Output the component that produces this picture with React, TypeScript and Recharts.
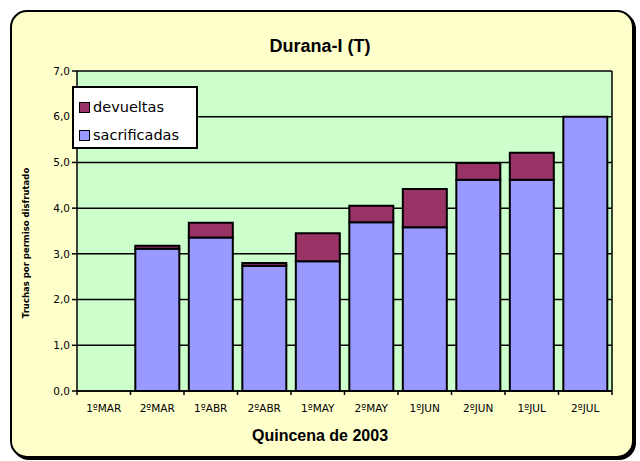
import React from 'react';
import { BarChart, Bar, XAxis, YAxis, CartesianGrid, Legend } from 'recharts';

const quincenas = ['1ºMAR', '2ºMAR', '1ºABR', '2ºABR', '1ºMAY', '2ºMAY', '1ºJUN', '2ºJUN', '1ºJUL', '2ºJUL'];
const sacrificadas = [null, 3.11, 3.36, 2.74, 2.84, 3.69, 3.58, 4.62, 4.62, 6.0];
const devueltas = [null, 0.07, 0.32, 0.06, 0.61, 0.36, 0.84, 0.37, 0.59, 0];
const yTicks = [0, 1, 2, 3, 4, 5, 6, 7];

const W = 640;
const H = 461;
const margin = { top: 71, right: 28, bottom: 40, left: 37 };
const Y_AXIS_W = 40;
const X_AXIS_H = 30;
const PLOT_BOTTOM = H - margin.bottom - X_AXIS_H;
const BAND = (W - margin.left - margin.right - Y_AXIS_W) / quincenas.length;
const FONT = 'Arial, "Liberation Sans", sans-serif';
const WIDE = '"DejaVu Sans", Verdana, sans-serif';

const data = quincenas.map((q, i) => ({
    quincena: q,
    sacrificadas: sacrificadas[i],
    devueltas: devueltas[i],
}));

const XTick = (props: any) => {
    const { x, y, payload, index } = props;
    const left = x - BAND / 2;
    return (
        <g>
            <line x1={left} y1={PLOT_BOTTOM} x2={left} y2={PLOT_BOTTOM + 4} stroke="#000" strokeWidth={1.5} />
            {index === quincenas.length - 1 && (
                <line x1={x + BAND / 2} y1={PLOT_BOTTOM} x2={x + BAND / 2} y2={PLOT_BOTTOM + 4} stroke="#000" strokeWidth={1.5} />
            )}
            <text x={x} y={y + 13} textAnchor="middle" fontSize={10.5} fontFamily={WIDE} fill="#000">
                {payload.value}
            </text>
        </g>
    );
};

const LegendBox = (props: any) => {
    const items = props.payload || [];
    return (
        <div style={{ background: '#fff', border: '2px solid #000', width: 126, height: 63, boxSizing: 'border-box', padding: '5px 0 0 5px', fontFamily: WIDE }}>
            {items.map((it: any) => (
                <div key={it.value} style={{ display: 'flex', alignItems: 'center', height: 28, fontSize: 14.5 }}>
                    <span style={{ display: 'inline-block', width: 9, height: 9, background: it.color, border: '1.5px solid #000', marginRight: 3 }} />
                    {it.value}
                </div>
            ))}
        </div>
    );
};

const YLabel = () => (
    <text x={29} y={243} transform="rotate(-90 29 243)" textAnchor="middle" fontSize={8.5} fontWeight="bold" fontFamily={WIDE} fill="#000">
        Truchas por permiso disfrutado
    </text>
);

const App: React.FC = () => {
    return (
        <div style={{ position: 'absolute', left: 0, top: 0, width: W, height: H, background: '#fff' }}>
            <div style={{ position: 'absolute', left: 10, top: 10, width: 620, height: 444, background: '#FFFFCC', border: '2px solid #000', borderRadius: 17, boxShadow: '2px 2px 0 #000' }} />
            <div style={{ position: 'absolute', left: 0, top: 36, width: W, textAlign: 'center', fontFamily: FONT, fontWeight: 'bold', fontSize: 18 }}>
                Durana-I (T)
            </div>
            <div style={{ position: 'absolute', left: 0, top: 427, width: W, textAlign: 'center', fontFamily: FONT, fontWeight: 'bold', fontSize: 16 }}>
                Quincena de 2003
            </div>
            <div style={{ position: 'absolute', left: 0, top: 0 }}>
                <BarChart width={W} height={H} data={data} margin={margin} barCategoryGap="9%">
                    <CartesianGrid
                        fill="#CCFFCC"
                        stroke="#000"
                        strokeWidth={1.5}
                        verticalCoordinatesGenerator={({ offset }: any) => [offset.left + offset.width]}
                    />
                    <XAxis
                        dataKey="quincena"
                        height={X_AXIS_H}
                        axisLine={{ stroke: '#000', strokeWidth: 1.5 }}
                        tickLine={false}
                        tick={<XTick />}
                        interval={0}
                    />
                    <YAxis
                        width={Y_AXIS_W}
                        domain={[0, 7]}
                        ticks={yTicks}
                        interval={0}
                        axisLine={{ stroke: '#000', strokeWidth: 1.5 }}
                        tickLine={{ stroke: '#000', strokeWidth: 1.5 }}
                        tickSize={5}
                        tick={{ fill: '#000', fontSize: 10.5, fontFamily: WIDE }}
                        tickFormatter={(v: number) => v.toFixed(1).replace('.', ',')}
                        label={<YLabel />}
                    />
                    <Legend
                        layout="vertical"
                        align="center"
                        verticalAlign="middle"
                        content={<LegendBox />}
                        wrapperStyle={{ left: 72, top: 86, width: 126, height: 63 }}
                    />
                    <Bar dataKey="sacrificadas" name="sacrificadas" stackId="a" fill="#9999FF" stroke="#000" strokeWidth={2} isAnimationActive={false} />
                    <Bar dataKey="devueltas" name="devueltas" stackId="a" fill="#993366" stroke="#000" strokeWidth={2} isAnimationActive={false} />
                </BarChart>
            </div>
        </div>
    );
};

export default App;
